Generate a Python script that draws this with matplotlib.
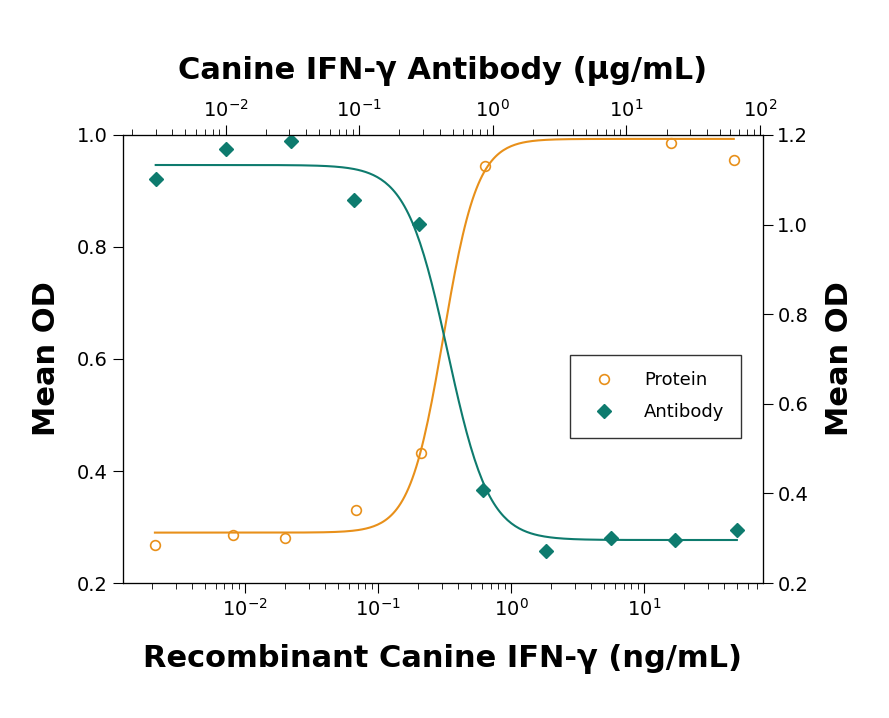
import numpy as np
import matplotlib
matplotlib.use("Agg")
import matplotlib.pyplot as plt

protein_conc = [0.0021, 0.0081, 0.020, 0.068, 0.21, 0.64, 16, 47]
protein_od = [0.267, 0.286, 0.281, 0.331, 0.432, 0.945, 0.985, 0.955]
antibody_conc = [0.003, 0.010, 0.031, 0.091, 0.28, 0.84, 2.5, 7.6, 23, 67]
antibody_od = [1.102, 1.169, 1.187, 1.055, 1.001, 0.408, 0.271, 0.300, 0.296, 0.318]

# 4PL fit parameters (bottom, top, ec50, hill)
protein_fit = (0.29, 0.993, 0.31, 3.4)
antibody_fit = (0.296, 1.133, 0.46, 2.8)

orange = "#E8901A"
teal = "#0E7B6E"

def fourpl(x, b, t, c, h):
    return b + (t - b) / (1 + (c / x) ** h)

plt.rcParams["font.family"] = "DejaVu Sans"
fig = plt.figure(figsize=(8.89, 7.18), dpi=100)
ax = fig.add_axes([0.138, 0.188, 0.72, 0.624])
ax.set_xscale("log")
ax.set_xlim(10 ** -2.92, 10 ** 1.89)
ax.set_ylim(0.2, 1.0)
xs = np.logspace(np.log10(protein_conc[0]), np.log10(protein_conc[-1]), 300)
ax.plot(xs, fourpl(xs, *protein_fit), color=orange, lw=1.5)
p1, = ax.plot(protein_conc, protein_od, "o", mfc="none", mec=orange, ms=7, mew=1.2, label="Protein")
ax.set_yticks([0.2, 0.4, 0.6, 0.8, 1.0])
ax.set_yticklabels(["0.2", "0.4", "0.6", "0.8", "1.0"])
ax.set_xlabel("Recombinant Canine IFN-\u03b3 (ng/mL)", fontsize=22, fontweight="bold", labelpad=18)
ax.set_ylabel("Mean OD", fontsize=22, fontweight="bold", labelpad=12)

ax2 = ax.twinx().twiny()
ax2.set_xscale("log")
ax2.set_xlim(10 ** -2.77, 10 ** 2.02)
ax2.set_ylim(0.2, 1.2)
xa = np.logspace(np.log10(antibody_conc[0]), np.log10(antibody_conc[-1]), 300)
ax2.plot(xa, fourpl(xa, antibody_fit[1], antibody_fit[0], antibody_fit[2], antibody_fit[3]), color=teal, lw=1.5)
p2, = ax2.plot(antibody_conc, antibody_od, "D", color=teal, ms=7, label="Antibody")
ax2.set_xlabel("Canine IFN-\u03b3 Antibody (\u03bcg/mL)", fontsize=22, fontweight="bold", labelpad=14)

axr = fig.axes[1]
axr.set_ylim(0.2, 1.2)
axr.set_yticks([0.2, 0.4, 0.6, 0.8, 1.0, 1.2])
axr.set_yticklabels(["0.2", "0.4", "0.6", "0.8", "1.0", "1.2"])
axr.set_ylabel("Mean OD", fontsize=22, fontweight="bold", labelpad=12)

for a in (ax, ax2, axr):
    a.tick_params(which="both", direction="out", labelsize=14)
    a.tick_params(which="major", length=7)
    a.tick_params(which="minor", length=4)

leg = ax2.legend(handles=[p1, p2], loc="upper left", bbox_to_anchor=(0.685, 0.53),
                 frameon=True, fancybox=False, edgecolor="black", fontsize=13,
                 handletextpad=1.2, borderpad=0.9, labelspacing=0.8)
leg.get_frame().set_linewidth(1.0)
fig.savefig("out.png", dpi=100)
